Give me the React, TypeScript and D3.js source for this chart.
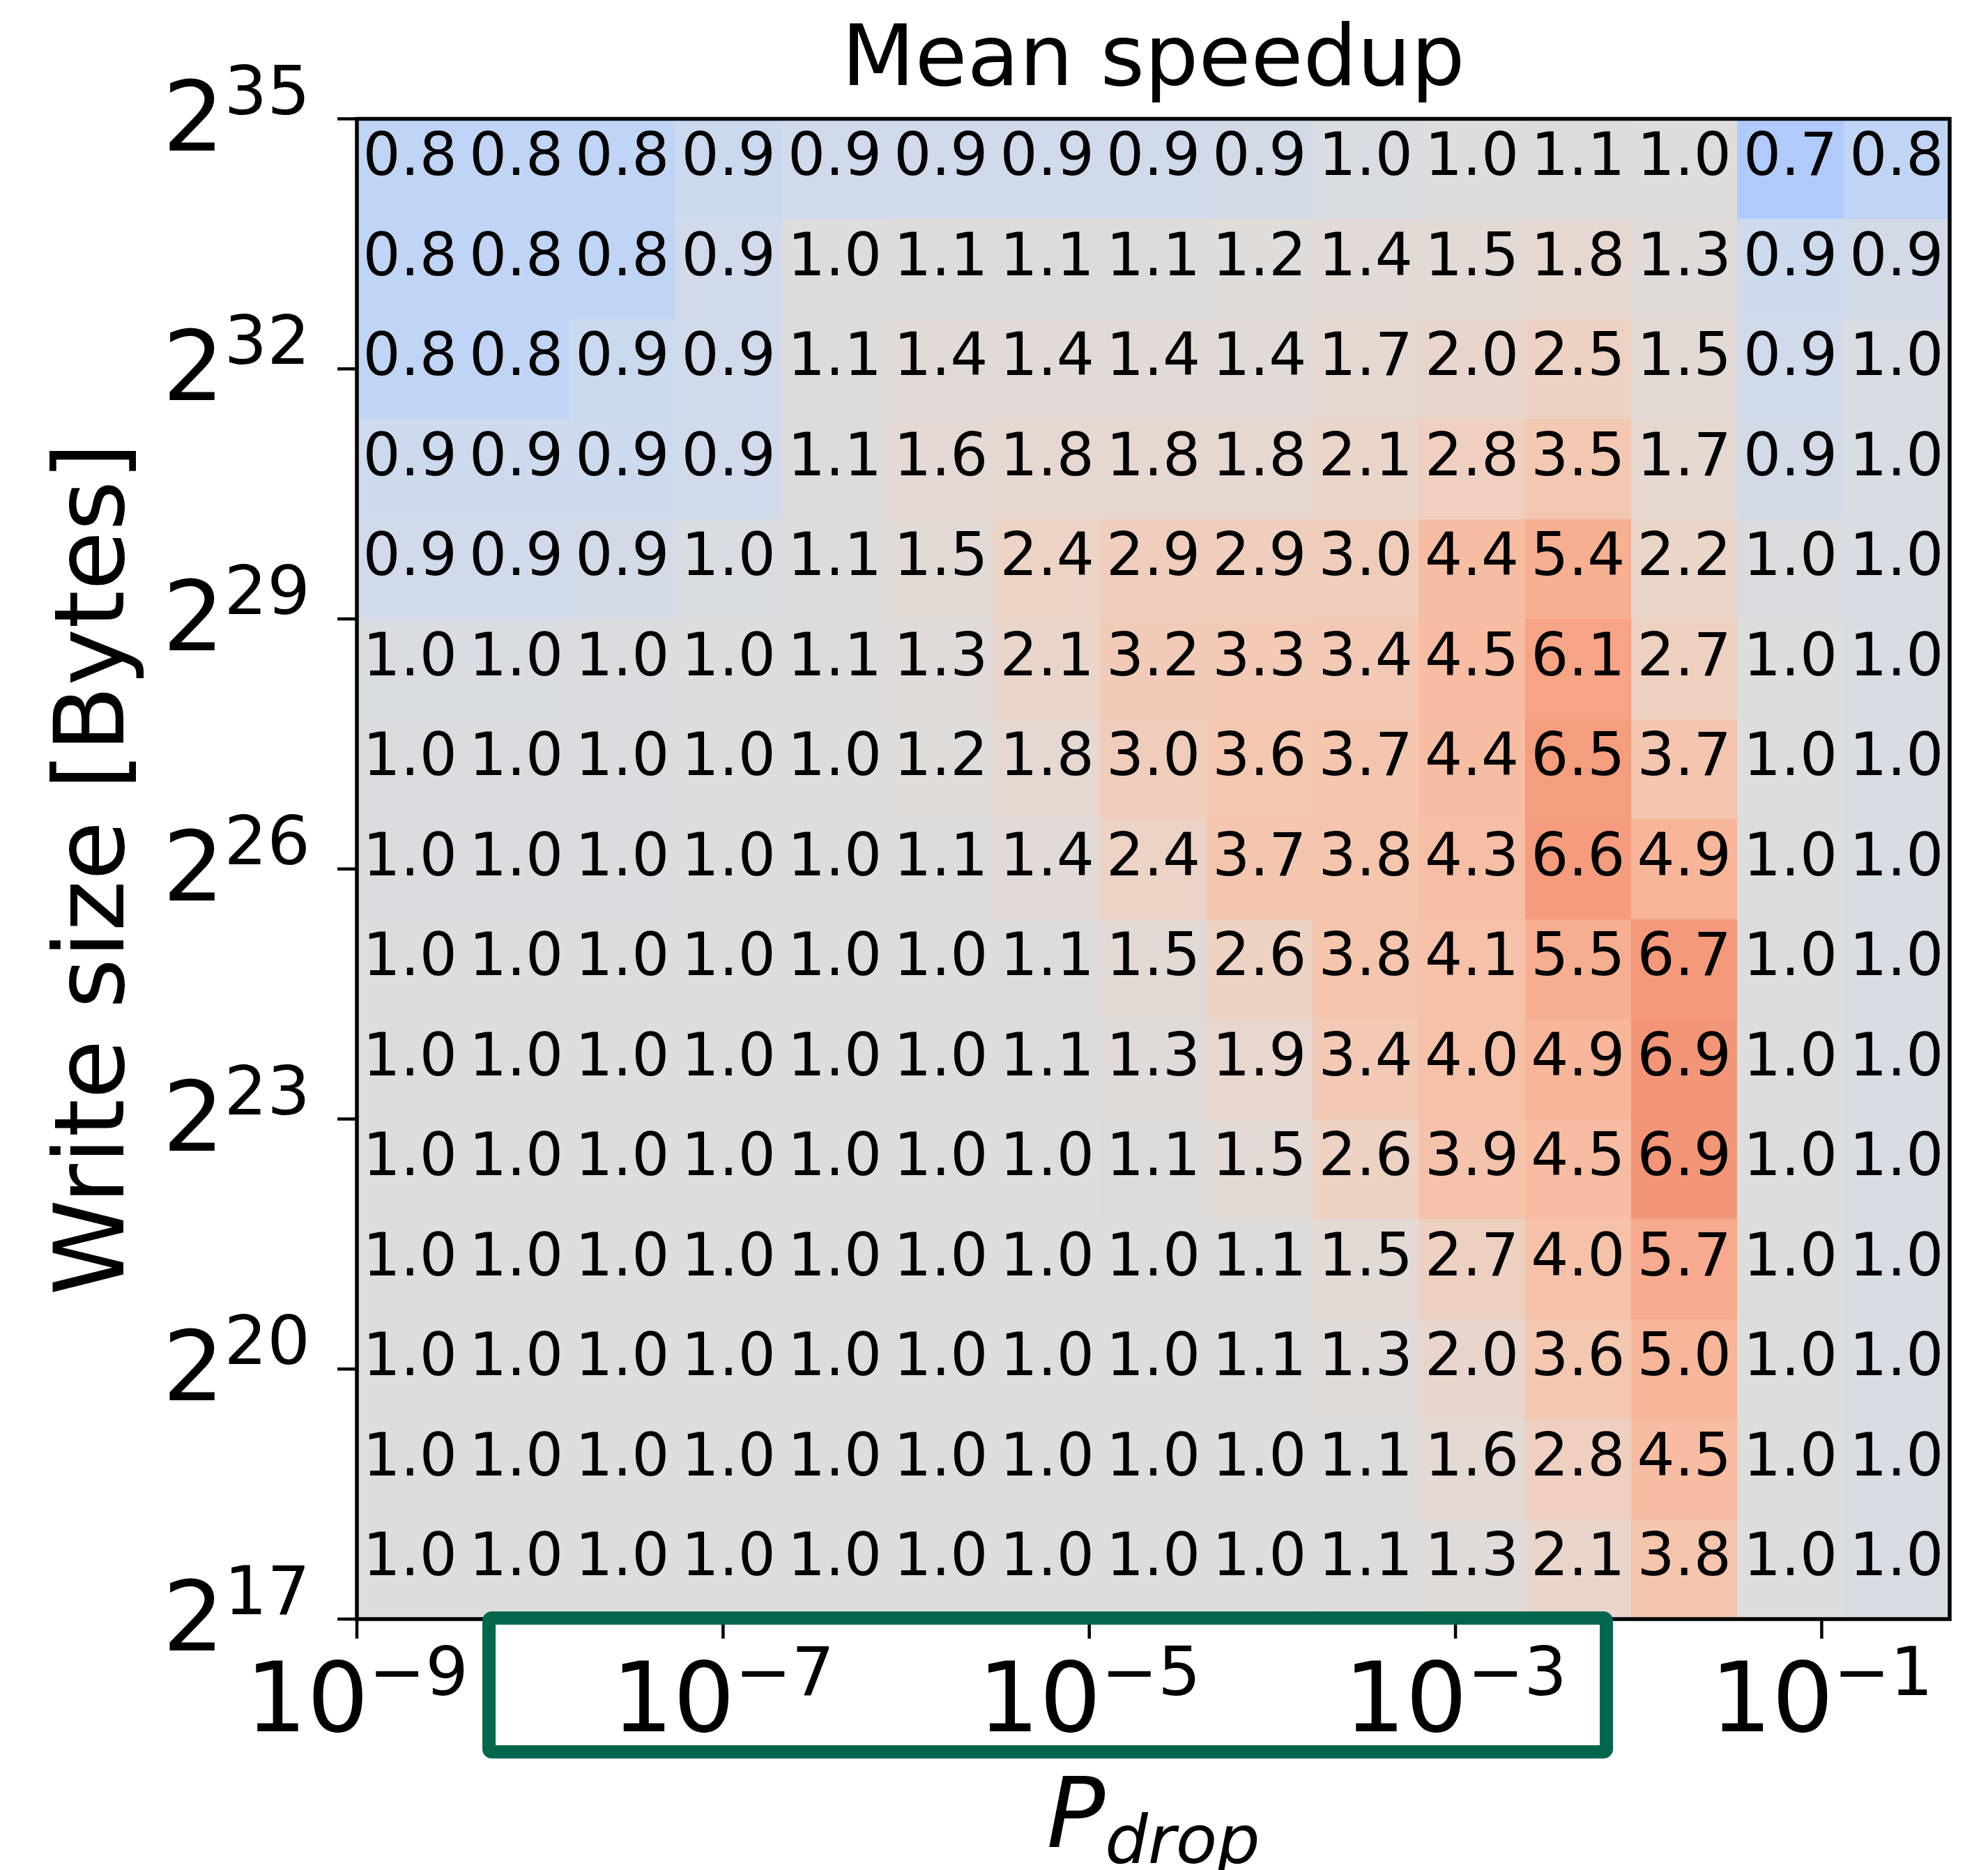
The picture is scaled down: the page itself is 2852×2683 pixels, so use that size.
import React from 'react';
import * as d3 from 'd3';

const title = 'Mean speedup';
const yLabel = 'Write size [Bytes]';
const xTickExps = [-9, -7, -5, -3, -1];
const yTickExps = [17, 20, 23, 26, 29, 32, 35];

// rows: largest write size (top) -> smallest (bottom); cols: low -> high P_drop
const speedup = [
  [0.8, 0.8, 0.8, 0.87, 0.9, 0.9, 0.9, 0.9, 0.92, 0.97, 1.0, 1.1, 1.0, 0.7, 0.8],
  [0.8, 0.8, 0.8, 0.9, 1.0, 1.1, 1.1, 1.1, 1.2, 1.4, 1.5, 1.8, 1.3, 0.88, 0.92],
  [0.8, 0.8, 0.87, 0.9, 1.1, 1.4, 1.4, 1.4, 1.4, 1.7, 2.0, 2.5, 1.5, 0.9, 0.96],
  [0.88, 0.88, 0.88, 0.9, 1.1, 1.6, 1.8, 1.8, 1.8, 2.1, 2.8, 3.5, 1.7, 0.92, 0.96],
  [0.9, 0.9, 0.92, 0.97, 1.1, 1.5, 2.4, 2.9, 2.9, 3.0, 4.4, 5.4, 2.2, 0.98, 0.96],
  [0.97, 0.97, 0.98, 0.99, 1.1, 1.3, 2.1, 3.2, 3.3, 3.4, 4.5, 6.1, 2.7, 1.0, 0.96],
  [0.98, 0.98, 0.98, 0.99, 1.0, 1.2, 1.8, 3.0, 3.6, 3.7, 4.4, 6.5, 3.7, 1.0, 0.96],
  [0.98, 0.98, 0.98, 1.0, 1.0, 1.1, 1.4, 2.4, 3.7, 3.8, 4.3, 6.6, 4.9, 1.0, 0.96],
  [1.0, 1.0, 1.0, 1.0, 1.0, 1.0, 1.1, 1.5, 2.6, 3.8, 4.1, 5.5, 6.7, 1.0, 0.96],
  [1.0, 1.0, 1.0, 1.0, 1.0, 1.0, 1.1, 1.3, 1.9, 3.4, 4.0, 4.9, 6.9, 1.0, 0.96],
  [1.0, 1.0, 1.0, 1.0, 1.0, 1.0, 1.0, 1.1, 1.5, 2.6, 3.9, 4.5, 6.9, 1.0, 0.96],
  [1.0, 1.0, 1.0, 1.0, 1.0, 1.0, 1.0, 1.0, 1.1, 1.5, 2.7, 4.0, 5.7, 1.0, 0.96],
  [1.0, 1.0, 1.0, 1.0, 1.0, 1.0, 1.0, 1.0, 1.1, 1.3, 2.0, 3.6, 5.0, 1.0, 0.96],
  [1.0, 1.0, 1.0, 1.0, 1.0, 1.0, 1.0, 1.0, 1.0, 1.1, 1.6, 2.8, 4.5, 1.0, 0.96],
  [1.0, 1.0, 1.0, 1.0, 1.0, 1.0, 1.0, 1.0, 1.0, 1.1, 1.3, 2.1, 3.8, 1.0, 0.96],
];

// coolwarm colormap, evenly spaced stops
const coolwarm = [
  '#3b4cc0', '#445acc', '#4d68d7', '#5775e1', '#6282ea', '#6c8ef1', '#779af7', '#82a5fb',
  '#8db0fe', '#98b9ff', '#a3c2fe', '#aec9fd', '#b8d0f9', '#c2d5f4', '#ccd9ee', '#d5dbe6',
  '#dddddd', '#e5d8d1', '#ecd3c5', '#f1ccb9', '#f5c4ac', '#f7bba0', '#f7b194', '#f7a688',
  '#f49a7b', '#f18d6f', '#ec7f63', '#e57058', '#de604d', '#d55042', '#cb3e38', '#c0282f',
  '#b40426',
];

const font = 'DejaVu Sans';

export default function App() {
  const width = 2852;
  const height = 2683;
  const left = 512, right = 2797, top = 170.5, bottom = 2323;
  const nRows = speedup.length;
  const nCols = speedup[0].length;

  const xBand = d3.scaleBand<number>().domain(d3.range(nCols)).range([left, right]);
  const yBand = d3.scaleBand<number>().domain(d3.range(nRows)).range([top, bottom]);
  const xLog = d3.scaleLog().domain([1e-9, 0.5]).range([left, right]);
  const yLog = d3.scaleLog().base(2).domain([2 ** 17, 2 ** 35]).range([bottom, top]);

  const cmap = d3.scaleLinear<string>()
    .domain(coolwarm.map((_, i) => i / (coolwarm.length - 1)))
    .range(coolwarm)
    .interpolate(d3.interpolateRgb);
  const norm = d3.scaleLinear().domain([0, 1, 12.4]).range([0, 0.5, 1]).clamp(true);
  const fmt = d3.format('.1f');

  const tickLen = 28;

  return (
    <svg width={width} height={height} style={{ position: 'absolute', left: 0, top: 0, background: '#fff' }}
      fontFamily={font}>
      <rect width={width} height={height} fill="#fff" />
      <text x={(left + right) / 2} y={122} textAnchor="middle" fontSize={122}>{title}</text>

      {/* cells */}
      <g shapeRendering="crispEdges">
        {speedup.map((row, r) => row.map((v, c) => (
          <rect key={`${r}-${c}`} x={xBand(c)} y={yBand(r)} width={xBand.bandwidth() + 0.5}
            height={yBand.bandwidth() + 0.5} fill={cmap(norm(v))} />
        )))}
      </g>
      <g fontSize={85} textAnchor="middle">
        {speedup.map((row, r) => row.map((v, c) => (
          <text key={`t${r}-${c}`} x={xBand(c)! + xBand.bandwidth() / 2}
            y={yBand(r)! + yBand.bandwidth() / 2 + 9}>{fmt(v)}</text>
        )))}
      </g>

      {/* spines */}
      <rect x={left} y={top} width={right - left} height={bottom - top} fill="none" stroke="#000"
        strokeWidth={5.5} strokeLinejoin="miter" />

      {/* y axis */}
      {yTickExps.map(e => {
        const y = yLog(2 ** e);
        return (
          <g key={`y${e}`}>
            <line x1={left - tickLen} x2={left} y1={y} y2={y} stroke="#000" strokeWidth={4.5} />
            <text x={445} y={y + 45} textAnchor="end" fontSize={139}>
              2<tspan dy={-52} fontSize={97}>{e}</tspan>
            </text>
          </g>
        );
      })}

      {/* x axis */}
      {xTickExps.map(e => {
        const x = xLog(10 ** e);
        return (
          <g key={`x${e}`}>
            <line x1={x} x2={x} y1={bottom} y2={bottom + tickLen} stroke="#000" strokeWidth={4.5} />
            <text x={x} y={2484} textAnchor="middle" fontSize={139}>
              10<tspan dy={-52} fontSize={97}>{`\u2212${Math.abs(e)}`}</tspan>
            </text>
          </g>
        );
      })}

      <text transform={`translate(177,${(top + bottom) / 2}) rotate(-90)`} textAnchor="middle" fontSize={139}>
        {yLabel}
      </text>
      <text x={(left + right) / 2} y={2650} textAnchor="middle" fontSize={139} fontStyle="italic">
        P<tspan dy={23} fontSize={97}>drop</tspan>
      </text>

      {/* highlight box */}
      <rect x={701.5} y={2321.5} width={1603} height={192} rx={4} fill="none" stroke="#02664f"
        strokeWidth={19} />
    </svg>
  );
}
